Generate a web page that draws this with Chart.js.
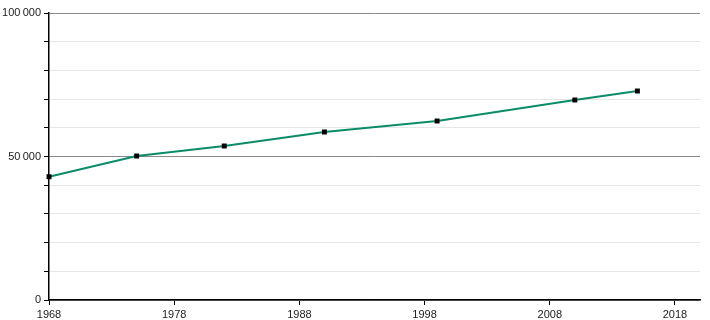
<!DOCTYPE html>
<html>
<head>
<meta charset="utf-8">
<script src="https://cdn.jsdelivr.net/npm/chart.js@4/dist/chart.umd.min.js"></script>
<style>
  html, body { margin: 0; padding: 0; background: #fff; }
  #wrap { width: 710px; height: 320px; }
</style>
</head>
<body>
<div id="wrap"><canvas id="chart1" width="710" height="320"></canvas></div>
<script>
// census years and population
var years = [1968, 1975, 1982, 1990, 1999, 2010, 2015];
var population = [42960, 50170, 53660, 58540, 62370, 69690, 72820];
var xTicks = [1968, 1978, 1988, 1998, 2008, 2018];
var yTicks = [0, 10000, 20000, 30000, 40000, 50000, 60000, 70000, 80000, 90000, 100000];
var yLabelled = [0, 50000, 100000];

// french style thousands: narrow space
function fmtSpace(n) {
  return String(n).replace(/\B(?=(\d{3})+(?!\d))/g, '\u202f');
}

Chart.defaults.font.family = 'Arial, "Liberation Sans", sans-serif';
Chart.defaults.font.size = 11;
Chart.defaults.color = '#222';

let ctx = document.getElementById('chart1').getContext('2d');
let lineChart = new Chart(ctx, {
  type: 'line',
  data: {
    datasets: [
      {
        data: years.map((y, i) => ({ x: y, y: population[i] })),
        borderColor: '#0b8b69',
        borderWidth: 2,
        tension: 0,
        clip: false,
        pointStyle: 'rect',
        pointRadius: 3.5,
        pointBackgroundColor: '#000',
        pointBorderColor: '#000',
        pointBorderWidth: 0
      }
    ]
  },
  options: {
    responsive: false,
    animation: false,
    layout: { padding: { top: 13, right: 10, left: 0, bottom: 0 } },
    plugins: { legend: { display: false }, tooltip: { enabled: false } },
    scales: {
      x: {
        type: 'linear',
        min: 1968,
        max: 2020,
        afterBuildTicks: s => { s.ticks = xTicks.map(v => ({ value: v })); },
        afterFit: s => { s.height = 20; },
        border: { color: '#000', width: 1.5 },
        grid: { color: 'rgba(0,0,0,0)', tickColor: '#000', tickLength: 5, drawOnChartArea: false },
        ticks: { autoSkip: false, maxRotation: 0, padding: 3, callback: v => String(v) }
      },
      y: {
        min: 0,
        max: 100000,
        afterBuildTicks: s => { s.ticks = yTicks.map(v => ({ value: v })); },
        afterFit: s => { s.width = 49; },
        border: { color: '#000', width: 1.5 },
        grid: {
          color: c => (c.tick && c.tick.value % 50000 === 0 ? '#8a8a8a' : '#e6e6e6'),
          tickColor: '#000',
          tickLength: 5
        },
        ticks: {
          autoSkip: false,
          padding: 3,
          callback: v => (yLabelled.indexOf(v) > -1 ? fmtSpace(v) : '')
        }
      }
    }
  }
});
</script>
</body>
</html>
